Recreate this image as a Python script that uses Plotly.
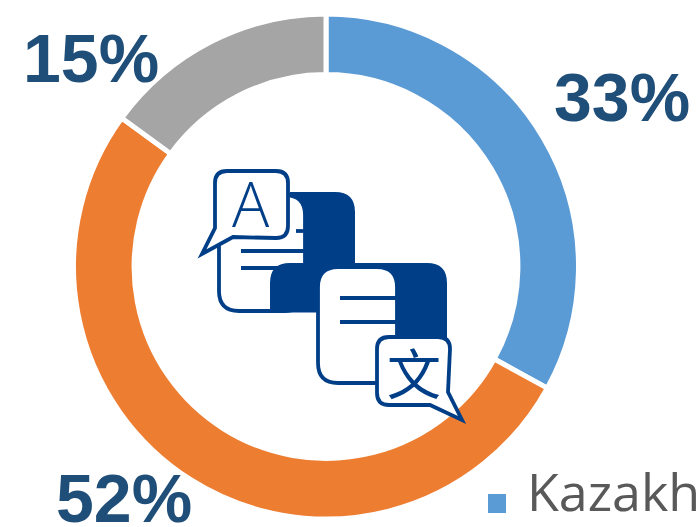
from plotly import graph_objs as go

W, H = 699, 527

categories = ['Kazakh', 'Other', 'Remaining']
shares = [33, 52, 15]
slice_colors = ['#5B9BD5', '#ED7D31', '#A5A5A5']
share_labels = ['33%', '52%', '15%']
legend_label = 'Kazakh'

NAVY = '#003F87'

# pixel helpers, everything below is placed in paper fractions
def px(x):
  return x / W

def py(y):
  return 1 - y / H

def make_path(points):
  # points: strings like 'M', 'L', 'Q' followed by pixel pairs
  out = []
  for cmd, *coords in points:
    pairs = ['%.5f,%.5f' % (px(coords[i]), py(coords[i + 1])) for i in range(0, len(coords), 2)]
    out.append(cmd + ' '.join(pairs))
  return ' '.join(out)

def round_box(x0, y0, x1, y1, r):
  return [
    ('M', x0 + r, y0), ('L', x1 - r, y0), ('Q', x1, y0, x1, y0 + r),
    ('L', x1, y1 - r), ('Q', x1, y1, x1 - r, y1),
    ('L', x0 + r, y1), ('Q', x0, y1, x0, y1 - r),
    ('L', x0, y0 + r), ('Q', x0, y0, x0 + r, y0),
  ]

def shape(points, fill = None, line = None, width = 3.8):
  return dict(
    type = 'path', xref = 'paper', yref = 'paper', layer = 'above',
    path = make_path(points) + (' Z' if fill else ''),
    fillcolor = fill if fill else 'rgba(0,0,0,0)',
    line = dict(color = line if line else 'rgba(0,0,0,0)', width = width if line else 0),
  )

def stroke(x0, y0, x1, y1):
  return shape([('M', x0, y0), ('L', x1, y1)], line = NAVY)

shapes = [
  # back sheet of the first page
  shape([
    ('M', 290, 192), ('L', 335, 192), ('Q', 355, 192, 355, 212),
    ('L', 355, 280), ('L', 290, 280),
  ], fill = NAVY),
  # first page
  shape(round_box(219, 195, 305, 311, 20), fill = 'white', line = NAVY),
  stroke(296, 231, 305, 231),
  stroke(241, 251, 305, 251),
  stroke(241, 268, 280, 268),
  # back sheet of the second page
  shape([
    ('M', 290, 263), ('L', 427, 263), ('Q', 447, 263, 447, 283),
    ('L', 447, 345), ('L', 380, 345), ('L', 380, 312.5), ('L', 270, 312.5),
    ('L', 270, 283), ('Q', 270, 263, 290, 263),
  ], fill = NAVY),
  # second page
  shape(round_box(318, 267, 397, 383, 20), fill = 'white', line = NAVY),
  stroke(340, 298, 397, 298),
  stroke(340, 322, 397, 322),
  # speech bubbles
  shape([
    ('M', 227, 171), ('L', 276, 171), ('Q', 288, 171, 288, 183),
    ('L', 288, 226), ('Q', 288, 238, 276, 238), ('L', 233, 237),
    ('L', 202, 254), ('L', 215, 228), ('L', 215, 183), ('Q', 215, 171, 227, 171),
  ], fill = 'white', line = NAVY),
  shape([
    ('M', 389, 337), ('L', 438, 337), ('Q', 450, 337, 450, 349),
    ('L', 448, 392), ('L', 462, 420), ('L', 430, 405),
    ('L', 389, 405), ('Q', 377, 405, 377, 393),
    ('L', 377, 349), ('Q', 377, 337, 389, 337),
  ], fill = 'white', line = NAVY),
  # legend swatch
  shape([('M', 488, 494), ('L', 506, 494), ('L', 506, 513), ('L', 488, 513)], fill = slice_colors[0]),
]

def label(text, x, y, size, color, family, weight = 'normal'):
  return dict(
    text = text, x = px(x), y = py(y), xref = 'paper', yref = 'paper',
    xanchor = 'center', yanchor = 'middle', showarrow = False,
    font = dict(family = family, size = size, color = color, weight = weight),
  )

SHARE_FONT = 'Liberation Sans'
annotations = [
  label(share_labels[0], 622, 97, 68, '#1F4E79', SHARE_FONT, 'bold'),
  label(share_labels[1], 124, 498, 68, '#1F4E79', SHARE_FONT, 'bold'),
  label(share_labels[2], 91, 58, 68, '#1F4E79', SHARE_FONT, 'bold'),
  label(legend_label, 613, 490, 52, '#595959', 'Open Sans'),
  label('A', 251, 203, 62, NAVY, 'Open Sans', 300),
  label('文', 414, 371, 54, NAVY, 'Noto Sans CJK SC'),
]

cx, cy, radius = 326, 266.5, 252.5

trace = go.Pie(
  labels = categories,
  values = shares,
  sort = False,
  direction = 'clockwise',
  rotation = 0,
  hole = 0.76,
  textinfo = 'none',
  hoverinfo = 'none',
  marker = dict(colors = slice_colors, line = dict(color = 'white', width = 5)),
  domain = dict(x = [px(cx - radius), px(cx + radius)], y = [py(cy + radius), py(cy - radius)]),
)

layout = go.Layout(
  width = W,
  height = H,
  margin = dict(l = 0, r = 0, t = 0, b = 0),
  paper_bgcolor = 'white',
  showlegend = False,
  shapes = shapes,
  annotations = annotations,
)

fig = go.Figure(data = [trace], layout = layout)
# the page's default body margin would push the plot off the window
fig.write_html(
  'out.html',
  config = {'displayModeBar': False},
  post_script = "document.body.style.margin = '0'; document.body.style.overflow = 'hidden';",
)
